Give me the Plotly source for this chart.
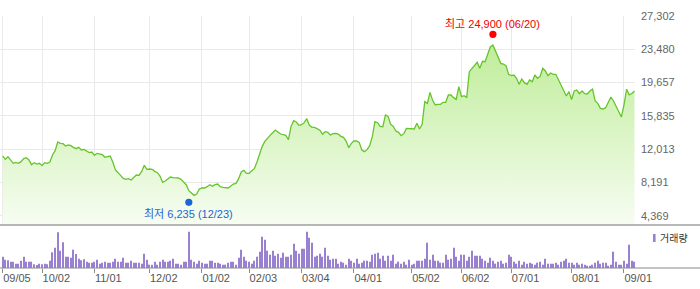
import pandas as pd
import plotly.graph_objects as go

# ---------------- data ----------------
holidays = ["2024-09-16", "2024-09-17", "2024-09-18", "2024-10-01", "2024-10-03",
            "2024-10-09", "2024-12-25", "2024-12-31", "2025-01-01", "2025-01-27",
            "2025-01-28", "2025-01-29", "2025-01-30", "2025-03-03", "2025-05-01",
            "2025-05-05", "2025-05-06", "2025-06-03", "2025-06-06", "2025-08-15"]
dates = [d.strftime("%Y-%m-%d") for d in pd.bdate_range("2024-09-05", "2025-09-05")
         if d.strftime("%Y-%m-%d") not in holidays]

close = [
    11230, 10847, 11153, 10694, 10388, 10503, 10388, 10579, 10924, 11039,
    10771, 10235, 10465, 10311, 10388, 10120, 10465, 10388, 10541, 11345,
    11842, 12837, 12684, 12646, 12378, 12493, 12416, 12225, 12072, 12225,
    11919, 11995, 11842, 11613, 11689, 11306, 11536, 11459, 11383, 11077,
    11153, 11230, 10541, 9623, 9317, 9010, 8666, 8551, 8628, 8475,
    8781, 9049, 9010, 9431, 10158, 9699, 9737, 9699, 9469, 9317,
    8934, 8207, 8360, 8627, 8818, 8742, 8703, 8703, 8550, 8244,
    7938, 7249, 6981, 6713, 6866, 7440, 7555, 7555, 7708, 7938,
    7747, 7938, 8014, 7708, 7632, 7632, 7555, 7785, 8014, 8091,
    8627, 9392, 9584, 9239, 9239, 9545, 9775, 10540, 11573, 12339,
    12913, 13296, 13602, 13908, 14214, 13985, 13755, 13678, 13602, 13104,
    14635, 15286, 15133, 14750, 14827, 15056, 15515, 14750, 14520, 14520,
    14367, 14200, 13740, 14023, 13946, 13640, 13793, 13831, 13755, 13487,
    13372, 12951, 12186, 12683, 12951, 12951, 12798, 11918, 11727, 11957,
    12416, 13449, 15171, 15056, 14635, 14597, 15936, 15783, 14865, 14635,
    14100, 13946, 13564, 13793, 14406, 14406, 14329, 14329, 14980, 14329,
    14865, 17467, 17276, 18539, 17620, 17085, 17161, 17161, 17391, 17391,
    18233, 18233, 17926, 17735, 19189, 18041, 18156, 17965, 20912, 21294,
    21600, 21983, 21300, 22100, 22059, 22901, 23743, 23973, 23208, 22633,
    21868, 21791, 21600, 20605, 20452, 20529, 20146, 19457, 20070, 19648,
    19457, 19955, 19763, 20529, 20146, 20376, 21294, 20988, 20452, 20758,
    20605, 20605, 19955, 19304, 18692, 18118, 18615, 17697, 18692, 18806,
    18386, 18692, 18386, 18348, 18692, 18921, 17544, 17276, 16702, 16626,
    16778, 17390, 18003, 17544, 16893, 16400, 15700, 17100, 18900, 18250,
    18400, 18700,
]

volume = [  # thousand shares
    340, 250, 230, 190, 190, 130, 130, 220, 340, 190,
    190, 190, 110, 90, 130, 110, 130, 110, 220, 470,
    610, 1070, 520, 770, 340, 340, 310, 550, 420, 280,
    230, 260, 190, 160, 160, 190, 250, 130, 160, 190,
    160, 160, 190, 280, 190, 190, 310, 160, 160, 220,
    160, 160, 160, 130, 430, 250, 100, 100, 190, 100,
    190, 250, 190, 190, 220, 280, 130, 130, 100, 190,
    190, 1090, 250, 190, 130, 220, 160, 130, 130, 220,
    220, 160, 160, 130, 100, 100, 160, 190, 190, 100,
    310, 550, 340, 220, 190, 130, 220, 340, 490, 940,
    850, 520, 400, 520, 370, 430, 310, 460, 340, 340,
    400, 730, 520, 430, 580, 580, 1090, 910, 760, 340,
    370, 430, 340, 610, 370, 250, 280, 280, 130, 190,
    160, 100, 280, 220, 160, 280, 130, 160, 220, 220,
    190, 400, 430, 460, 280, 370, 220, 370, 220, 400,
    130, 190, 130, 190, 100, 250, 100, 130, 220, 220,
    220, 280, 760, 250, 400, 220, 220, 160, 160, 400,
    250, 280, 610, 340, 220, 400, 400, 220, 340, 520,
    370, 370, 370, 280, 220, 160, 310, 220, 130, 190,
    220, 130, 160, 400, 340, 190, 130, 220, 100, 190,
    130, 160, 130, 100, 160, 190, 100, 280, 130, 130,
    130, 160, 100, 190, 220, 280, 160, 160, 100, 160,
    100, 130, 100, 70, 70, 100, 160, 220, 130, 160,
    160, 70, 100, 490, 190, 100, 100, 220, 130, 700,
    220, 190,
]

tick_dates = ["2024-09-05", "2024-10-02", "2024-11-01", "2024-12-02", "2025-01-02",
              "2025-02-03", "2025-03-04", "2025-04-01", "2025-05-02", "2025-06-02",
              "2025-07-01", "2025-08-01", "2025-09-01"]
tick_labels = ["09/05", "10/02", "11/01", "12/02", "01/02", "02/03", "03/04",
               "04/01", "05/02", "06/02", "07/01", "08/01", "09/01"]
price_ticks = [4369, 8191, 12013, 15835, 19657, 23480, 27302]

high_value, high_date = 24900, "2025-06-20"
low_value, low_date = 6235, "2024-12-23"
volume_label = "거래량"

# ---------------- styling ----------------
W, H = 700, 289
ML, MR, MT, MB = 0, 65, 16, 21
plot_w = W - ML - MR
plot_h = H - MT - MB
sep_px = 225  # price/volume separator (from top)
price_bottom = (H - MB - sep_px) / plot_h
vol_top = (H - MB - (sep_px + 1)) / plot_h

LINE = "#66c42c"
BAR = "#9a80d0"
GRID = "#e9e9e9"
FONT = "Liberation Sans, Noto Sans CJK KR, sans-serif"

fig = go.Figure()
fig.add_trace(go.Scatter(
    x=dates, y=close, mode="lines",
    line=dict(color=LINE, width=1.3),
    fill="tozeroy",
    fillgradient=dict(type="vertical",
                      colorscale=[[0, "#f7fdf2"], [1, "#bdec96"]],
                      start=3309, stop=25000),
    xaxis="x", yaxis="y", hoverinfo="skip", showlegend=False,
))
fig.add_trace(go.Bar(
    x=dates, y=volume, marker=dict(color=BAR, line=dict(width=0)),
    width=0.42, xaxis="x2", yaxis="y2", showlegend=False, hoverinfo="skip",
))

xr = [-1.03, len(dates) - 0.8]
fig.update_layout(
    width=W, height=H, margin=dict(l=ML, r=MR, t=MT, b=MB),
    paper_bgcolor="white", plot_bgcolor="white",
    font=dict(family=FONT, size=11, color="#666"),
    xaxis=dict(type="category", range=xr, anchor="y", tickvals=tick_dates,
               showticklabels=False, ticks="", showgrid=True, gridcolor=GRID,
               gridwidth=1, zeroline=False, showline=False),
    xaxis2=dict(type="category", range=xr, anchor="y2", tickvals=tick_dates,
                ticktext=tick_labels, ticklabelposition="outside right",
                ticks="outside", ticklen=4, tickcolor="#8a8a8a", tickwidth=1,
                showgrid=False, zeroline=False, showline=False,
                tickfont=dict(family=FONT, size=11, color="#555")),
    yaxis=dict(domain=[price_bottom, 1], range=[3309, 27302], side="right",
               tickvals=price_ticks, ticktext=[f"{v:,}" for v in price_ticks],
               ticks="", ticklabelstandoff=5, showgrid=True, gridcolor=GRID,
               zeroline=False, showline=False,
               tickfont=dict(family=FONT, size=11, color="#666")),
    yaxis2=dict(domain=[0, vol_top], range=[0, 1260], showticklabels=False,
                ticks="", showgrid=False, zeroline=False, showline=False),
)

# separator and volume axis lines (full width)
x_full = W / plot_w
fig.add_shape(type="line", xref="paper", yref="paper", x0=0, x1=x_full,
              y0=price_bottom, y1=price_bottom, line=dict(color="#707070", width=1))
fig.add_shape(type="line", xref="paper", yref="paper", x0=0, x1=x_full,
              y0=0, y1=0, line=dict(color="#8a8a8a", width=1.2))

# high / low markers
fig.add_shape(type="circle", xref="x", yref="y", xsizemode="pixel", ysizemode="pixel",
              xanchor=high_date, yanchor=high_value, x0=-3.6, x1=3.6, y0=-1, y1=6.2,
              fillcolor="#ff0000", line=dict(width=0))
fig.add_shape(type="circle", xref="x", yref="y", xsizemode="pixel", ysizemode="pixel",
              xanchor=low_date, yanchor=low_value, x0=-3.6, x1=3.6, y0=-6.4, y1=0.8,
              fillcolor="#1a66d6", line=dict(width=0))
fig.add_annotation(x=high_date, y=high_value, xref="x", yref="y", showarrow=False,
                   yshift=13, text=f"최고 {high_value:,} ({high_date[5:7]}/{high_date[8:]})",
                   font=dict(family=FONT, size=11, color="#f00000"))
fig.add_annotation(x=low_date, y=low_value, xref="x", yref="y", showarrow=False,
                   yshift=-14, text=f"최저 {low_value:,} ({low_date[5:7]}/{low_date[8:]})",
                   font=dict(family=FONT, size=11, color="#1a66d6"))

# volume legend
fig.add_shape(type="rect", xref="paper", yref="paper",
              x0=653 / plot_w, x1=655.6 / plot_w,
              y0=(H - MB - 242) / plot_h, y1=(H - MB - 234) / plot_h,
              fillcolor=BAR, line=dict(width=0))
fig.add_annotation(x=658 / plot_w, y=(H - MB - 238) / plot_h, xref="paper", yref="paper",
                   xanchor="left", yanchor="middle", showarrow=False, text=volume_label,
                   font=dict(family=FONT, size=10, color="#333"))

fig.write_html("out.html")
